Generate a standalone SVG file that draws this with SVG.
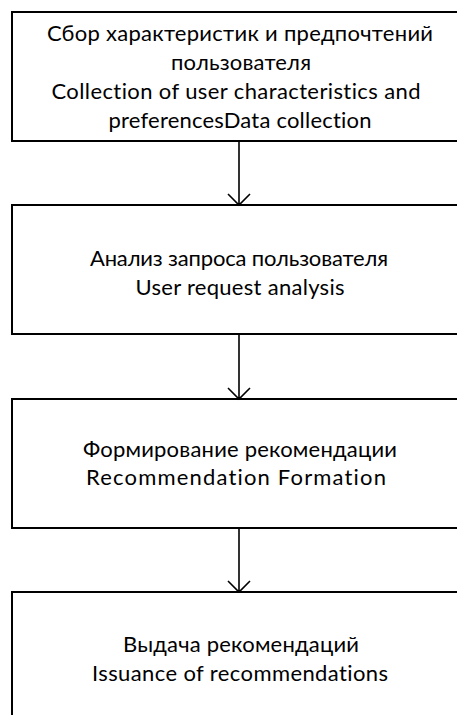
<svg xmlns="http://www.w3.org/2000/svg" width="457" height="715" viewBox="0 0 457 715">
<style>
.box{fill:#fff;stroke:#000;stroke-width:2}
.lbl{font-family:Lato,"Liberation Sans",sans-serif;font-size:22px;fill:#000;text-anchor:middle;font-variant-ligatures:none}
.con{fill:none;stroke:#000;stroke-width:1.6}
</style>
<rect width="457" height="715" fill="#fff"/>
<g id="node1">
<rect class="box" x="12" y="12" width="452" height="129"/>
<text class="lbl" x="240" y="41" textLength="386" lengthAdjust="spacing">Сбор характеристик и предпочтений</text>
<text class="lbl" x="241" y="70" textLength="140" lengthAdjust="spacing">пользователя</text>
<text class="lbl" x="236" y="99" textLength="369" lengthAdjust="spacing">Collection of user characteristics and</text>
<text class="lbl" x="240" y="128" textLength="263" lengthAdjust="spacing">preferencesData collection</text>
</g>
<g id="node2">
<rect class="box" x="12" y="205" width="452" height="129"/>
<text class="lbl" x="239" y="266" textLength="298" lengthAdjust="spacing">Анализ запроса пользователя</text>
<text class="lbl" x="240" y="295" textLength="209" lengthAdjust="spacing">User request analysis</text>
</g>
<g id="node3">
<rect class="box" x="12" y="399" width="452" height="129"/>
<text class="lbl" x="240" y="457" textLength="314" lengthAdjust="spacing">Формирование рекомендации</text>
<text class="lbl" x="236" y="485" textLength="300" lengthAdjust="spacing">Recommendation Formation</text>
</g>
<g id="node4">
<rect class="box" x="12" y="592" width="452" height="129"/>
<text class="lbl" x="241" y="652" textLength="236" lengthAdjust="spacing">Выдача рекомендаций</text>
<text class="lbl" x="240" y="681" textLength="296" lengthAdjust="spacing">Issuance of recommendations</text>
</g>
<g id="connectors">
<path class="con" d="M239 141V205M228 194L239 205L250 194"/>
<path class="con" d="M239 334V399M228 388L239 399L250 388"/>
<path class="con" d="M239 528V592M228 581L239 592L250 581"/>
</g>
</svg>
